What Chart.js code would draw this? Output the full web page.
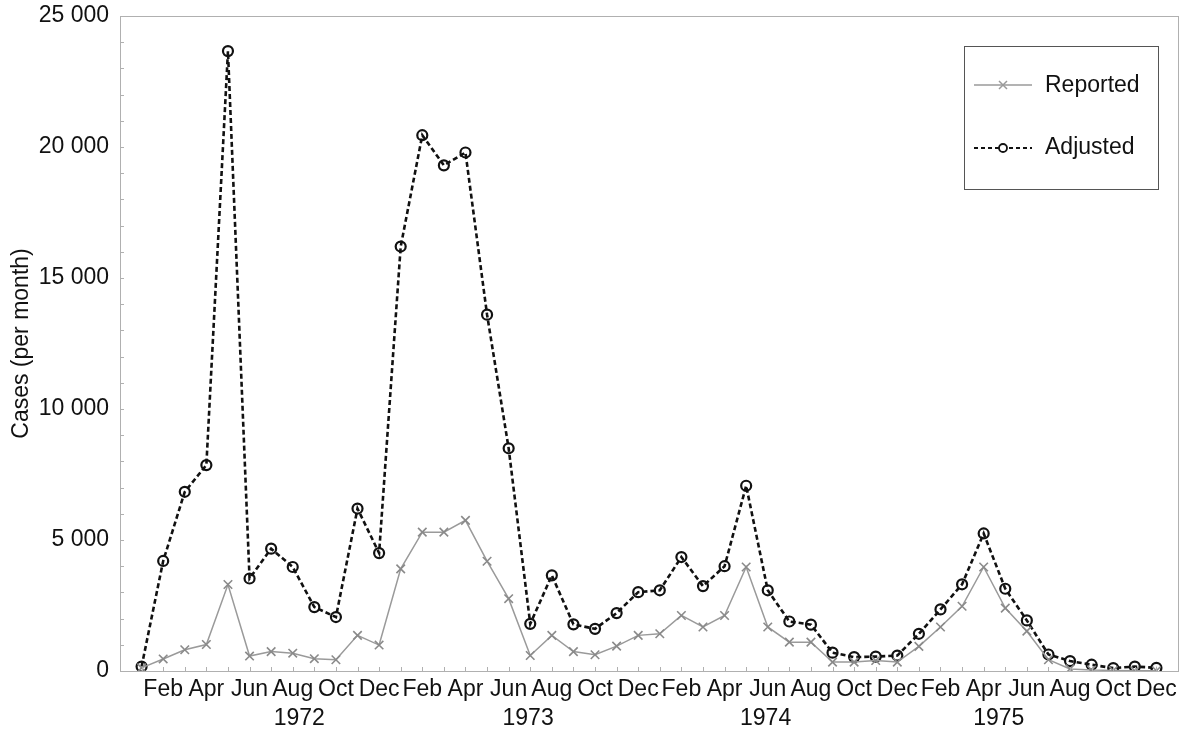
<!DOCTYPE html>
<html>
<head>
<meta charset="utf-8">
<script src="https://cdn.jsdelivr.net/npm/chart.js@4"></script>
<style>
  html, body { margin: 0; padding: 0; background: #fff; }
  #wrap { width: 1189px; height: 732px; position: relative; }
</style>
</head>
<body>
<div id="wrap"><canvas id="chart"></canvas></div>
<script>
// Monthly cases, Jan 1972 - Dec 1975
const months = ['Jan', 'Feb', 'Mar', 'Apr', 'May', 'Jun', 'Jul', 'Aug', 'Sep', 'Oct', 'Nov', 'Dec'];
const years = ['1972', '1973', '1974', '1975'];
const yearLabelPos = [7.3, 17.9, 28.9, 39.7];
const monthTickLabels = ['', 'Feb', '', 'Apr', '', 'Jun', '', 'Aug', '', 'Oct', '', 'Dec'];
const yTicks = [0, 5000, 10000, 15000, 20000, 25000];

const reported = [
  120, 460, 810, 1010, 3300, 570, 740, 680, 470, 430, 1360, 990,
  3900, 5300, 5300, 5750, 4190, 2760, 590, 1360, 740, 620, 950, 1360,
  1420, 2120, 1680, 2120, 3970, 1680, 1100, 1100, 340, 340, 400, 340,
  940, 1680, 2470, 3970, 2400, 1520, 430, 80, 40, 20, 10, 10
];
const adjusted = [
  170, 4200, 6840, 7860, 23660, 3530, 4670, 3970, 2440, 2060, 6200, 4500,
  16200, 20450, 19300, 19790, 13600, 8500, 1800, 3650, 1780, 1610, 2210, 3010,
  3080, 4350, 3240, 4000, 7070, 3080, 1890, 1770, 700, 530, 550, 590,
  1420, 2350, 3310, 5250, 3140, 1930, 630, 380, 240, 110, 170, 120
];

const toPoints = arr => arr.map((v, i) => ({ x: i, y: v }));
const fmt = v => String(v).replace(/\B(?=(\d{3})+(?!\d))/g, ' ');
const FONT = 'Liberation Sans, Arial, sans-serif';
const FS = 23;

// box, inward ticks and year labels
const decor = {
  id: 'decor',
  afterDraw(chart) {
    const { ctx, chartArea: a, scales } = chart;
    const xs = scales.x, ys = scales.y;
    ctx.save();
    ctx.strokeStyle = '#b0b0b0';
    ctx.lineWidth = 1;
    ctx.strokeRect(a.left + 0.5, a.top + 0.5, a.right - a.left, a.bottom - a.top);
    ctx.beginPath();
    for (let v = 0; v <= 25000; v += 1000) {
      const y = Math.round(ys.getPixelForValue(v)) + 0.5;
      ctx.moveTo(a.left, y); ctx.lineTo(a.left + 4, y);
    }
    for (let i = 0; i < years.length * 12; i++) {
      const x = Math.round(xs.getPixelForValue(i)) + 0.5;
      ctx.moveTo(x, a.bottom); ctx.lineTo(x, a.bottom - 4);
    }
    ctx.stroke();
    ctx.fillStyle = '#111';
    ctx.font = FS + 'px ' + FONT;
    ctx.textAlign = 'center';
    ctx.textBaseline = 'top';
    years.forEach((yr, k) => {
      ctx.fillText(yr, xs.getPixelForValue(yearLabelPos[k]), a.bottom + 36);
    });
    ctx.restore();
  }
};

const legendBox = {
  id: 'legendBox',
  afterDraw(chart) {
    const ctx = chart.ctx;
    ctx.save();
    ctx.strokeStyle = '#555';
    ctx.lineWidth = 1;
    ctx.strokeRect(964.5, 46.5, 194, 143);
    // Reported sample
    ctx.strokeStyle = '#9a9a9a';
    ctx.lineWidth = 1.5;
    ctx.beginPath(); ctx.moveTo(974, 85); ctx.lineTo(1032, 85); ctx.stroke();
    ctx.beginPath();
    ctx.moveTo(999, 81); ctx.lineTo(1007, 89);
    ctx.moveTo(1007, 81); ctx.lineTo(999, 89);
    ctx.stroke();
    // Adjusted sample
    ctx.strokeStyle = '#111';
    ctx.lineWidth = 2.2;
    ctx.setLineDash([4, 3]);
    ctx.beginPath(); ctx.moveTo(974, 148); ctx.lineTo(1032, 148); ctx.stroke();
    ctx.setLineDash([]);
    ctx.fillStyle = '#fff';
    ctx.lineWidth = 1.8;
    ctx.beginPath(); ctx.arc(1003, 148, 4, 0, Math.PI * 2); ctx.fill(); ctx.stroke();
    ctx.fillStyle = '#111';
    ctx.font = FS + 'px ' + FONT;
    ctx.textAlign = 'left';
    ctx.textBaseline = 'middle';
    ctx.fillText('Reported', 1045, 86);
    ctx.fillText('Adjusted', 1045, 148);
    ctx.restore();
  }
};

new Chart(document.getElementById('chart'), {
  type: 'line',
  data: {
    datasets: [
      {
        label: 'Reported',
        data: toPoints(reported),
        borderColor: '#9a9a9a',
        borderWidth: 1.5,
        pointStyle: 'crossRot',
        pointRadius: 6,
        pointBorderColor: '#8a8a8a',
        pointBorderWidth: 1.6,
        tension: 0
      },
      {
        label: 'Adjusted',
        data: toPoints(adjusted),
        borderColor: '#111',
        borderWidth: 2.6,
        borderDash: [5, 3],
        pointStyle: 'circle',
        pointRadius: 5,
        pointBackgroundColor: 'rgba(255,255,255,0)',
        pointBorderColor: '#111',
        pointBorderWidth: 2.2,
        tension: 0
      }
    ]
  },
  options: {
    responsive: true,
    maintainAspectRatio: false,
    animation: false,
    layout: { padding: { top: 16, right: 11, left: 0, bottom: 0 } },
    plugins: {
      legend: { display: false },
      tooltip: { enabled: false }
    },
    scales: {
      x: {
        type: 'linear',
        min: -1,
        max: years.length * 12,
        afterBuildTicks(scale) {
          const t = [];
          for (let i = 0; i < years.length * 12; i++) t.push({ value: i });
          scale.ticks = t;
        },
        afterFit(scale) { scale.height = 61; scale.paddingLeft = 0; scale.paddingRight = 0; },
        grid: { display: false },
        border: { display: false },
        ticks: {
          autoSkip: false,
          maxRotation: 0,
          padding: -3,
          color: '#111',
          font: { family: FONT, size: FS },
          callback: v => monthTickLabels[((v % 12) + 12) % 12]
        }
      },
      y: {
        min: 0,
        max: 25000,
        afterBuildTicks(scale) { scale.ticks = yTicks.map(v => ({ value: v })); },
        afterFit(scale) { scale.width = 120; scale.paddingTop = 0; scale.paddingBottom = 0; },
        grid: { display: false },
        border: { display: false },
        title: {
          display: true,
          text: 'Cases (per month)',
          color: '#111',
          font: { family: FONT, size: FS },
          padding: { top: 8, bottom: 0 }
        },
        ticks: {
          color: '#111',
          padding: 3,
          font: { family: FONT, size: FS },
          callback: v => fmt(v)
        }
      }
    }
  },
  plugins: [decor, legendBox]
});
</script>
</body>
</html>
